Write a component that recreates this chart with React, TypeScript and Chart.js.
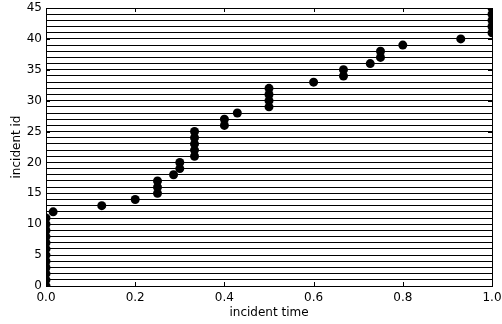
import React, { useEffect, useRef } from "react";
import { Chart, registerables } from "chart.js";

Chart.register(...registerables);

const incidentTimes: number[] = [
  0, 0, 0, 0, 0, 0, 0, 0, 0, 0, 0, 0,
  0.016, 0.125, 0.2, 0.25, 0.25, 0.25, 0.286, 0.3, 0.3,
  0.333, 0.333, 0.333, 0.333, 0.333, 0.4, 0.4, 0.429,
  0.5, 0.5, 0.5, 0.5, 0.6, 0.667, 0.667, 0.727, 0.75, 0.75, 0.8, 0.93,
  1, 1, 1, 1, 1,
];
const incidentIds: number[] = incidentTimes.map((_, i) => i);
const xTicks: number[] = [0, 0.2, 0.4, 0.6, 0.8, 1.0];
const yTicks: number[] = [0, 5, 10, 15, 20, 25, 30, 35, 40, 45];

const FONT = "'DejaVu Sans', sans-serif";

const framePlugin = {
  id: "frame",
  afterDraw(chart: any) {
    const { ctx, chartArea } = chart;
    const { left, right, top, bottom } = chartArea;
    const xs = chart.scales.x;
    const ys = chart.scales.y;
    ctx.save();
    ctx.strokeStyle = "#000";
    ctx.lineWidth = 1;
    ctx.beginPath();
    for (const v of xTicks) {
      const px = Math.round(xs.getPixelForValue(v)) + 0.5;
      ctx.moveTo(px, bottom);
      ctx.lineTo(px, bottom - 4);
      ctx.moveTo(px, top);
      ctx.lineTo(px, top + 4);
    }
    for (const v of yTicks) {
      const py = Math.round(ys.getPixelForValue(v)) + 0.5;
      ctx.moveTo(left, py);
      ctx.lineTo(left + 4, py);
      ctx.moveTo(right, py);
      ctx.lineTo(right - 4, py);
    }
    ctx.stroke();
    ctx.strokeRect(Math.round(left) + 0.5, Math.round(top) + 0.5, Math.round(right - left), Math.round(bottom - top));
    ctx.restore();
  },
};

export default function App() {
  const ref = useRef<HTMLCanvasElement>(null);
  useEffect(() => {
    document.body.style.margin = "0";
    const chart = new Chart(ref.current!, {
      type: "scatter",
      data: {
        datasets: [
          {
            data: incidentTimes.map((x, i) => ({ x, y: incidentIds[i] })),
            backgroundColor: "#000",
            borderColor: "#000",
            pointRadius: 4.5,
            pointBorderWidth: 0,
            clip: 0,
          } as any,
        ],
      },
      plugins: [framePlugin],
      options: {
        animation: false,
        responsive: false,
        maintainAspectRatio: false,
        layout: { padding: { top: 8, right: 10, left: 0, bottom: 0 } },
        plugins: { legend: { display: false }, tooltip: { enabled: false } },
        scales: {
          x: {
            type: "linear",
            min: 0,
            max: 1,
            afterFit(scale: any) {
              scale.height = 38;
              scale.paddingLeft = 0;
              scale.paddingRight = 0;
            },
            ticks: {
              stepSize: 0.2,
              color: "#000",
              padding: 5,
              font: { family: FONT, size: 12 },
              callback: (v: any) => Number(v).toFixed(1),
            },
            grid: { display: false, drawTicks: false },
            border: { display: true, color: "#000" },
            title: {
              display: true,
              text: "incident time",
              color: "#000",
              font: { family: FONT, size: 12 },
              padding: { top: 2, bottom: 4 },
            },
          },
          y: {
            type: "linear",
            min: 0,
            max: 45,
            afterFit(scale: any) {
              scale.width = 46;
              scale.paddingTop = 0;
              scale.paddingBottom = 0;
            },
            ticks: {
              stepSize: 1,
              autoSkip: false,
              color: "#000",
              padding: 4,
              font: { family: FONT, size: 12 },
              callback: (v: any) => (Number(v) % 5 === 0 ? String(v) : ""),
            },
            grid: { display: true, color: "#000", lineWidth: 1, drawTicks: false },
            border: { display: true, color: "#000" },
            title: {
              display: true,
              text: "incident id",
              color: "#000",
              font: { family: FONT, size: 12 },
              padding: { top: 10, bottom: 2 },
            },
          },
        },
      },
    });
    return () => chart.destroy();
  }, []);
  return (
    <div style={{ position: "absolute", left: 0, top: 0, width: 502, height: 324 }}>
      <canvas ref={ref} width={502} height={324} />
    </div>
  );
}
